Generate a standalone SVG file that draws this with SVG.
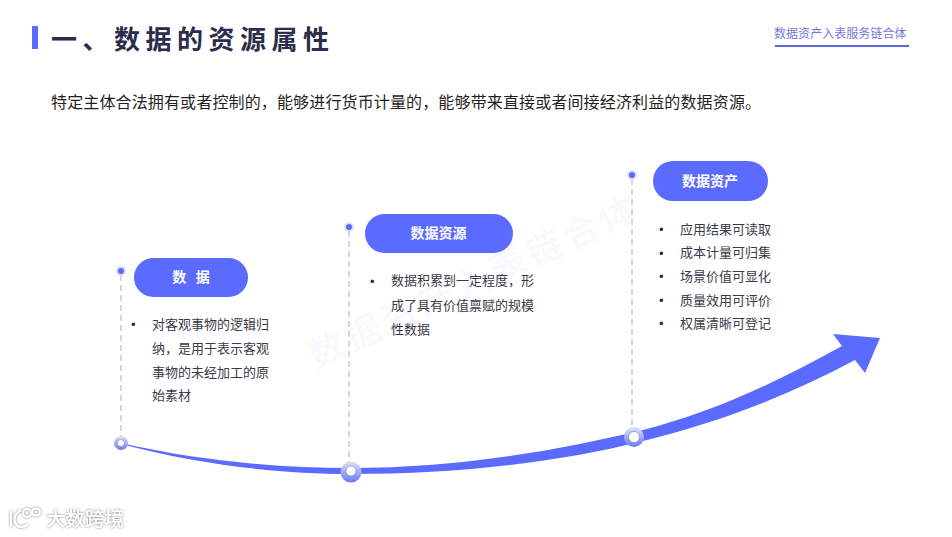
<svg xmlns="http://www.w3.org/2000/svg" width="952" height="537" viewBox="0 0 952 537">
<style>
text{font-family:"Noto Sans CJK SC","Noto Sans",sans-serif}
.body{font-size:13px;fill:#3a3a48}
.bul{font-size:13px;fill:#2b2d4a;font-family:"Liberation Sans",sans-serif}
.pill{fill:#5b6bff}
.ptxt{font-size:14px;font-weight:700;fill:#fff;text-anchor:middle}
.dash{stroke:#d6d6da;stroke-width:2;stroke-dasharray:6 4;fill:none}
.dot{fill:#5b6bf0}
.halo{fill:#cfd4ff;opacity:.75}
.hole{fill:#fff;stroke:#6a6f90;stroke-width:.5}
.ring{fill:url(#rg)}
</style>
<defs>
<linearGradient id="rg" x1="0" y1="1" x2="0" y2="0"><stop offset="0" stop-color="#6a78f4"/><stop offset="1" stop-color="#dfe2fd"/></linearGradient>
<filter id="sh" x="-20%" y="-40%" width="140%" height="180%"><feDropShadow dx="0" dy="0" stdDeviation="1.3" flood-color="#555" flood-opacity=".85"/></filter>
</defs>
<rect width="952" height="537" fill="#fff"/>
<text transform="translate(316 369) rotate(-25)" font-size="36" font-weight="700" fill="#5b6bff" opacity=".035" letter-spacing="4">数据资产入表链合体</text>
<g id="header">
<rect x="32" y="26" width="6" height="23" fill="#5b6bff"/>
<text x="51" y="49" font-size="26" font-weight="700" fill="#2b2d4a" letter-spacing="5.500">一、数据的资源属性</text>
<text x="774" y="38" font-size="12" fill="#7478dc" letter-spacing=".05">数据资产入表服务链合体</text>
<rect x="775" y="45" width="134" height="2" fill="#5b6bd0"/>
</g>
<text id="intro" x="51" y="108" font-size="16" fill="#1f1f24" letter-spacing=".14">特定主体合法拥有或者控制的，能够进行货币计量的，能够带来直接或者间接经济利益的数据资源。</text>
<g id="connectors">
<line class="dash" x1="121" y1="275" x2="121" y2="438"/>
<line class="dash" x1="349" y1="231" x2="349" y2="463"/>
<line class="dash" x1="632" y1="179" x2="632" y2="428"/>
<path fill="#5b6bff" d="M121 443C200 461 280 468 350 468C460 468 560 450 643 430C720 410 780 380 842 346L833 334L880 338L865 373L855 360C790 395 720 422 643 441C560 462 460 474 350 474C280 474 200 465 121 444Z"/>
</g>
<g id="node-data">
<circle class="halo" cx="121" cy="271" r="5"/><circle class="dot" cx="121" cy="271" r="3"/>
<rect class="pill" x="134" y="258" width="114" height="39" rx="19.500"/>
<text class="ptxt" x="191" y="282" xml:space="preserve">数   据</text>
<text class="bul" x="131" y="329">•</text>
<text class="body" x="152" y="329">对客观事物的逻辑归</text>
<text class="body" x="152" y="353">纳，是用于表示客观</text>
<text class="body" x="152" y="377">事物的未经加工的原</text>
<text class="body" x="152" y="400">始素材</text>
<circle class="ring" cx="121" cy="443" r="7"/><circle class="hole" cx="121" cy="443" r="3.500"/>
</g>
<g id="node-resource">
<circle class="halo" cx="349" cy="227" r="5"/><circle class="dot" cx="349" cy="227" r="3"/>
<rect class="pill" x="365" y="214" width="148" height="39" rx="19.500"/>
<text class="ptxt" x="438.500" y="238">数据资源</text>
<text class="bul" x="370" y="286">•</text>
<text class="body" x="391" y="285">数据积累到一定程度，形</text>
<text class="body" x="391" y="310">成了具有价值禀赋的规模</text>
<text class="body" x="391" y="334">性数据</text>
<circle class="ring" cx="351" cy="472" r="10.500"/><circle class="hole" cx="351" cy="471" r="5"/>
</g>
<g id="node-asset">
<circle class="halo" cx="632" cy="175" r="5"/><circle class="dot" cx="632" cy="175" r="3"/>
<rect class="pill" x="653" y="161" width="115" height="40" rx="20"/>
<text class="ptxt" x="710" y="186">数据资产</text>
<text class="bul" x="659" y="234">•</text><text class="body" x="680" y="234">应用结果可读取</text>
<text class="bul" x="659" y="258">•</text><text class="body" x="680" y="257">成本计量可归集</text>
<text class="bul" x="659" y="281">•</text><text class="body" x="680" y="281">场景价值可显化</text>
<text class="bul" x="659" y="305">•</text><text class="body" x="680" y="305">质量效用可评价</text>
<text class="bul" x="659" y="328">•</text><text class="body" x="680" y="328">权属清晰可登记</text>
<circle class="ring" cx="634" cy="437" r="10"/><circle class="hole" cx="634" cy="437" r="5.500"/>
</g>
<g id="logo" filter="url(#sh)">
<path fill="none" stroke="#fff" stroke-width="2.200" d="M11 511V527M21 510C14 514 13 520 16 524C18 528 24 528 28 524"/>
<ellipse cx="27" cy="513" rx="4" ry="4" fill="none" stroke="#fff" stroke-width="2"/>
<ellipse cx="36" cy="512" rx="4" ry="3.500" fill="none" stroke="#fff" stroke-width="2"/>
<text x="46" y="526" font-size="19.500" font-weight="500" fill="#fff">大数跨境</text>
</g>
</svg>
